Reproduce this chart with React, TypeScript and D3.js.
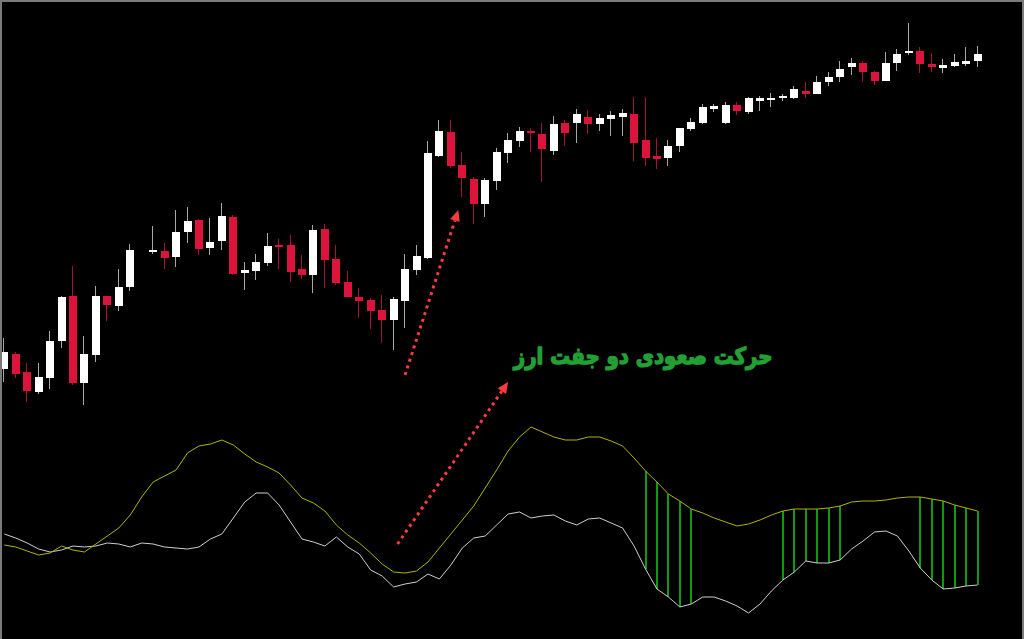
import * as d3 from "d3";
import { useEffect, useRef } from "react";

// bar prices (bar 12 has no data)
const opens = [1.1431, 1.1446, 1.1428, 1.1408, 1.1422, 1.1459, 1.1504, 1.1417, 1.1445, 1.1504, 1.1494, 1.1513, null, 1.1548, 1.1549, 1.1543, 1.1568, 1.1580, 1.1552, 1.1559,
  1.1583, 1.1527, 1.1529, 1.1537, 1.1555, 1.1555, 1.1531, 1.1525, 1.1571, 1.1541, 1.1518, 1.1503, 1.1500, 1.1490, 1.1480, 1.1499, 1.1530, 1.1542, 1.1644, 1.1668,
  1.1635, 1.1621, 1.1596, 1.1619, 1.1647, 1.1659, 1.1669, 1.1666, 1.1649, 1.1677, 1.1677, 1.1683, 1.1676, 1.1681, 1.1683, 1.1686, 1.1660, 1.1644, 1.1642, 1.1654,
  1.1671, 1.1677, 1.1691, 1.1677, 1.1695, 1.1688, 1.1699, 1.1701, 1.1702, 1.1702, 1.1709, 1.1706, 1.1718, 1.1723, 1.1733, 1.1737, 1.1728, 1.1719, 1.1737, 1.1747,
  1.1749, 1.1736, 1.1732, 1.1734, 1.1736, 1.1739];
const highs = [1.1462, 1.1448, 1.1437, 1.1437, 1.1469, 1.1504, 1.1534, 1.1464, 1.1514, 1.1504, 1.1531, 1.1556, null, 1.1574, 1.1557, 1.1590, 1.1593, 1.1581, 1.1582, 1.1597,
  1.1585, 1.1538, 1.1546, 1.1567, 1.1561, 1.1565, 1.1545, 1.1575, 1.1576, 1.1555, 1.1529, 1.1512, 1.1502, 1.1505, 1.1503, 1.1546, 1.1555, 1.1659, 1.1680, 1.1680,
  1.1648, 1.1623, 1.1622, 1.1652, 1.1667, 1.1673, 1.1672, 1.1677, 1.1684, 1.1680, 1.1691, 1.1690, 1.1686, 1.1689, 1.1691, 1.1703, 1.1703, 1.1662, 1.1660, 1.1672,
  1.1682, 1.1696, 1.1696, 1.1698, 1.1698, 1.1703, 1.1704, 1.1707, 1.1706, 1.1714, 1.1718, 1.1724, 1.1728, 1.1739, 1.1742, 1.1739, 1.1729, 1.1748, 1.1751, 1.1777,
  1.1753, 1.1747, 1.1741, 1.1746, 1.1753, 1.1754];
const lows = [1.1418, 1.1422, 1.1398, 1.1406, 1.1411, 1.1452, 1.1415, 1.1395, 1.1438, 1.1479, 1.1489, 1.1509, null, 1.1546, 1.1531, 1.1533, 1.1557, 1.1545, 1.1545, 1.1550,
  1.1525, 1.1510, 1.1520, 1.1534, 1.1531, 1.1518, 1.1521, 1.1507, 1.1512, 1.1515, 1.1503, 1.1482, 1.1471, 1.1457, 1.1450, 1.1472, 1.1525, 1.1541, 1.1643, 1.1632,
  1.1603, 1.1576, 1.1583, 1.1610, 1.1637, 1.1653, 1.1648, 1.1618, 1.1645, 1.1654, 1.1657, 1.1666, 1.1669, 1.1664, 1.1664, 1.1639, 1.1634, 1.1631, 1.1634, 1.1648,
  1.1669, 1.1676, 1.1688, 1.1676, 1.1685, 1.1686, 1.1689, 1.1693, 1.1699, 1.1701, 1.1702, 1.1706, 1.1714, 1.1718, 1.1725, 1.1718, 1.1715, 1.1719, 1.1729, 1.1745,
  1.1727, 1.1728, 1.1727, 1.1733, 1.1734, 1.1733];
const closes = [1.1448, 1.1426, 1.1409, 1.1423, 1.1459, 1.1503, 1.1417, 1.1446, 1.1504, 1.1495, 1.1513, 1.1550, null, 1.1550, 1.1542, 1.1568, 1.1579, 1.1551, 1.1558, 1.1584,
  1.1526, 1.1530, 1.1538, 1.1554, 1.1554, 1.1528, 1.1525, 1.1570, 1.1540, 1.1517, 1.1503, 1.1499, 1.1489, 1.1480, 1.1501, 1.1531, 1.1544, 1.1647, 1.1669, 1.1634,
  1.1622, 1.1596, 1.1620, 1.1648, 1.1660, 1.1669, 1.1667, 1.1651, 1.1676, 1.1667, 1.1686, 1.1676, 1.1682, 1.1685, 1.1687, 1.1657, 1.1642, 1.1641, 1.1654, 1.1672,
  1.1678, 1.1693, 1.1694, 1.1695, 1.1689, 1.1702, 1.1702, 1.1702, 1.1704, 1.1711, 1.1706, 1.1718, 1.1723, 1.1731, 1.1737, 1.1728, 1.1719, 1.1737, 1.1746, 1.1749,
  1.1736, 1.1733, 1.1735, 1.1738, 1.1739, 1.1746];

// oscillator: yellow (signal) and white (main) lines
const signalLine = [85, 83, 79, 75, 77, 84, 80, 78, 86, 94, 102, 115, 133, 148, 154, 160, 177, 184, 186, 190,
  185, 176, 168, 163, 157, 145, 132, 127, 119, 105, 95, 87, 77, 66, 58, 57, 59, 68, 82, 96,
  110, 124, 142, 160, 179, 193, 203, 198, 193, 190, 190, 193, 193, 189, 184, 172, 159, 148, 136, 129,
  121, 117, 112, 108, 104, 106, 110, 115, 119, 121, 121, 121, 122, 124, 128, 129, 129, 130, 132, 133,
  133, 131, 129, 125, 122, 119];
const mainLine = [96, 92, 87, 81, 78, 80, 84, 83, 84, 87, 86, 83, 87, 86, 83, 82, 81, 83, 91, 96,
  112, 128, 137, 137, 125, 108, 91, 88, 84, 93, 83, 76, 60, 54, 43, 46, 48, 56, 51, 65,
  82, 92, 94, 105, 116, 118, 112, 114, 115, 109, 105, 111, 112, 107, 102, 84, 61, 41, 33, 23,
  26, 33, 33, 29, 24, 17, 26, 39, 50, 58, 69, 67, 67, 70, 81, 89, 98, 99, 94, 79,
  62, 50, 41, 42, 44, 45];

// bars where the green histogram is drawn
const histBars = [56, 57, 58, 59, 60, 68, 69, 70, 71, 72, 73, 80, 81, 82, 83, 84, 85];

const label = "حرکت صعودی دو جفت ارز";

const App = () => {
  const ref: any = useRef();

  useEffect(() => {
    const width = 1024, height = 639;
    const svg = d3.select(ref.current);
    svg.selectAll("*").remove();

    svg.append("rect").attr("width", width).attr("height", height).attr("fill", "#000");

    const n = opens.length;
    const x = d3.scaleLinear().domain([0, n - 1]).range([4.3, 977.55]);
    const y = d3.scaleLinear().domain([1.1380, 1.1790]).range([420, 10]);
    const yo = d3.scaleLinear().domain([0, 210]).range([630, 420]);
    const px = (i: number) => Math.round(x(i)) - 0.5;

    const bars = d3.range(n).filter(i => opens[i] != null);
    const isUp = (i: number) => (closes[i] as number) >= (opens[i] as number);

    // wicks
    svg.append("g").selectAll("line").data(bars).join("line")
      .attr("x1", px).attr("x2", px)
      .attr("y1", (i: any) => y(highs[i] as number))
      .attr("y2", (i: any) => y(lows[i] as number))
      .attr("stroke", (i: any) => isUp(i) ? "#a8a8a8" : "#a3122e")
      .attr("stroke-width", 1);

    // bodies
    svg.append("g").selectAll("rect").data(bars).join("rect")
      .attr("x", (i: any) => Math.round(x(i)) - 4)
      .attr("width", 8)
      .attr("y", (i: any) => Math.round(y(Math.max(opens[i] as number, closes[i] as number))))
      .attr("height", (i: any) => Math.max(2, Math.round(Math.abs(y(opens[i] as number) - y(closes[i] as number)))))
      .attr("fill", (i: any) => isUp(i) ? "#ffffff" : "#dc143c");

    // histogram between the two oscillator lines
    svg.append("g").selectAll("line").data(histBars).join("line")
      .attr("x1", (i: any) => Math.round(x(i))).attr("x2", (i: any) => Math.round(x(i)))
      .attr("y1", (i: any) => yo(signalLine[i]))
      .attr("y2", (i: any) => yo(mainLine[i]))
      .attr("stroke", "#0f9a0f")
      .attr("stroke-width", 2);

    const line = d3.line<number>().x((_d, i) => x(i)).y(d => yo(d));
    svg.append("path").attr("d", line(mainLine)).attr("fill", "none").attr("stroke", "#cfcfcf").attr("stroke-width", 1);
    svg.append("path").attr("d", line(signalLine)).attr("fill", "none").attr("stroke", "#b3b300").attr("stroke-width", 1);

    // dotted arrows
    const arrows = [
      { from: [x(35), y(1.1425)], to: [x(39.65), y(1.1590)] },
      { from: [x(34.35), yo(86)], to: [x(44), yo(248)] },
    ];
    arrows.forEach(a => {
      const [x0, y0] = a.from, [x1, y1] = a.to;
      const len = Math.hypot(x1 - x0, y1 - y0);
      const ux = (x1 - x0) / len, uy = (y1 - y0) / len;
      const head = 11, half = 5;
      const bx = x1 - ux * head, by = y1 - uy * head;
      svg.append("line")
        .attr("x1", x0).attr("y1", y0).attr("x2", bx).attr("y2", by)
        .attr("stroke", "#ff3c3c").attr("stroke-width", 3)
        .attr("stroke-dasharray", "3,4");
      svg.append("path")
        .attr("d", `M${x1},${y1}L${bx - uy * half},${by + ux * half}L${bx + uy * half},${by - ux * half}Z`)
        .attr("fill", "#ff3c3c");
    });

    // caption (bold, slightly condensed)
    svg.append("text")
      .attr("transform", `translate(${x(55.8)},${y(1.1436)}) scale(0.86,1)`)
      .attr("text-anchor", "middle")
      .attr("direction", "rtl")
      .attr("font-family", "'DejaVu Sans', sans-serif")
      .attr("font-weight", "bold")
      .attr("font-size", 23)
      .attr("fill", "#22a033")
      .attr("stroke", "#22a033")
      .attr("stroke-width", 1.4)
      .attr("stroke-linejoin", "round")
      .text(label);

    // frame
    svg.append("path").attr("d", `M1,${height}V1H${width - 1}V${height}`)
      .attr("fill", "none").attr("stroke", "#7a7a7a").attr("stroke-width", 2);
  }, []);

  return <svg ref={ref} width={1024} height={639} style={{ position: "absolute", left: 0, top: 0, display: "block" }} />;
};

export default App;
